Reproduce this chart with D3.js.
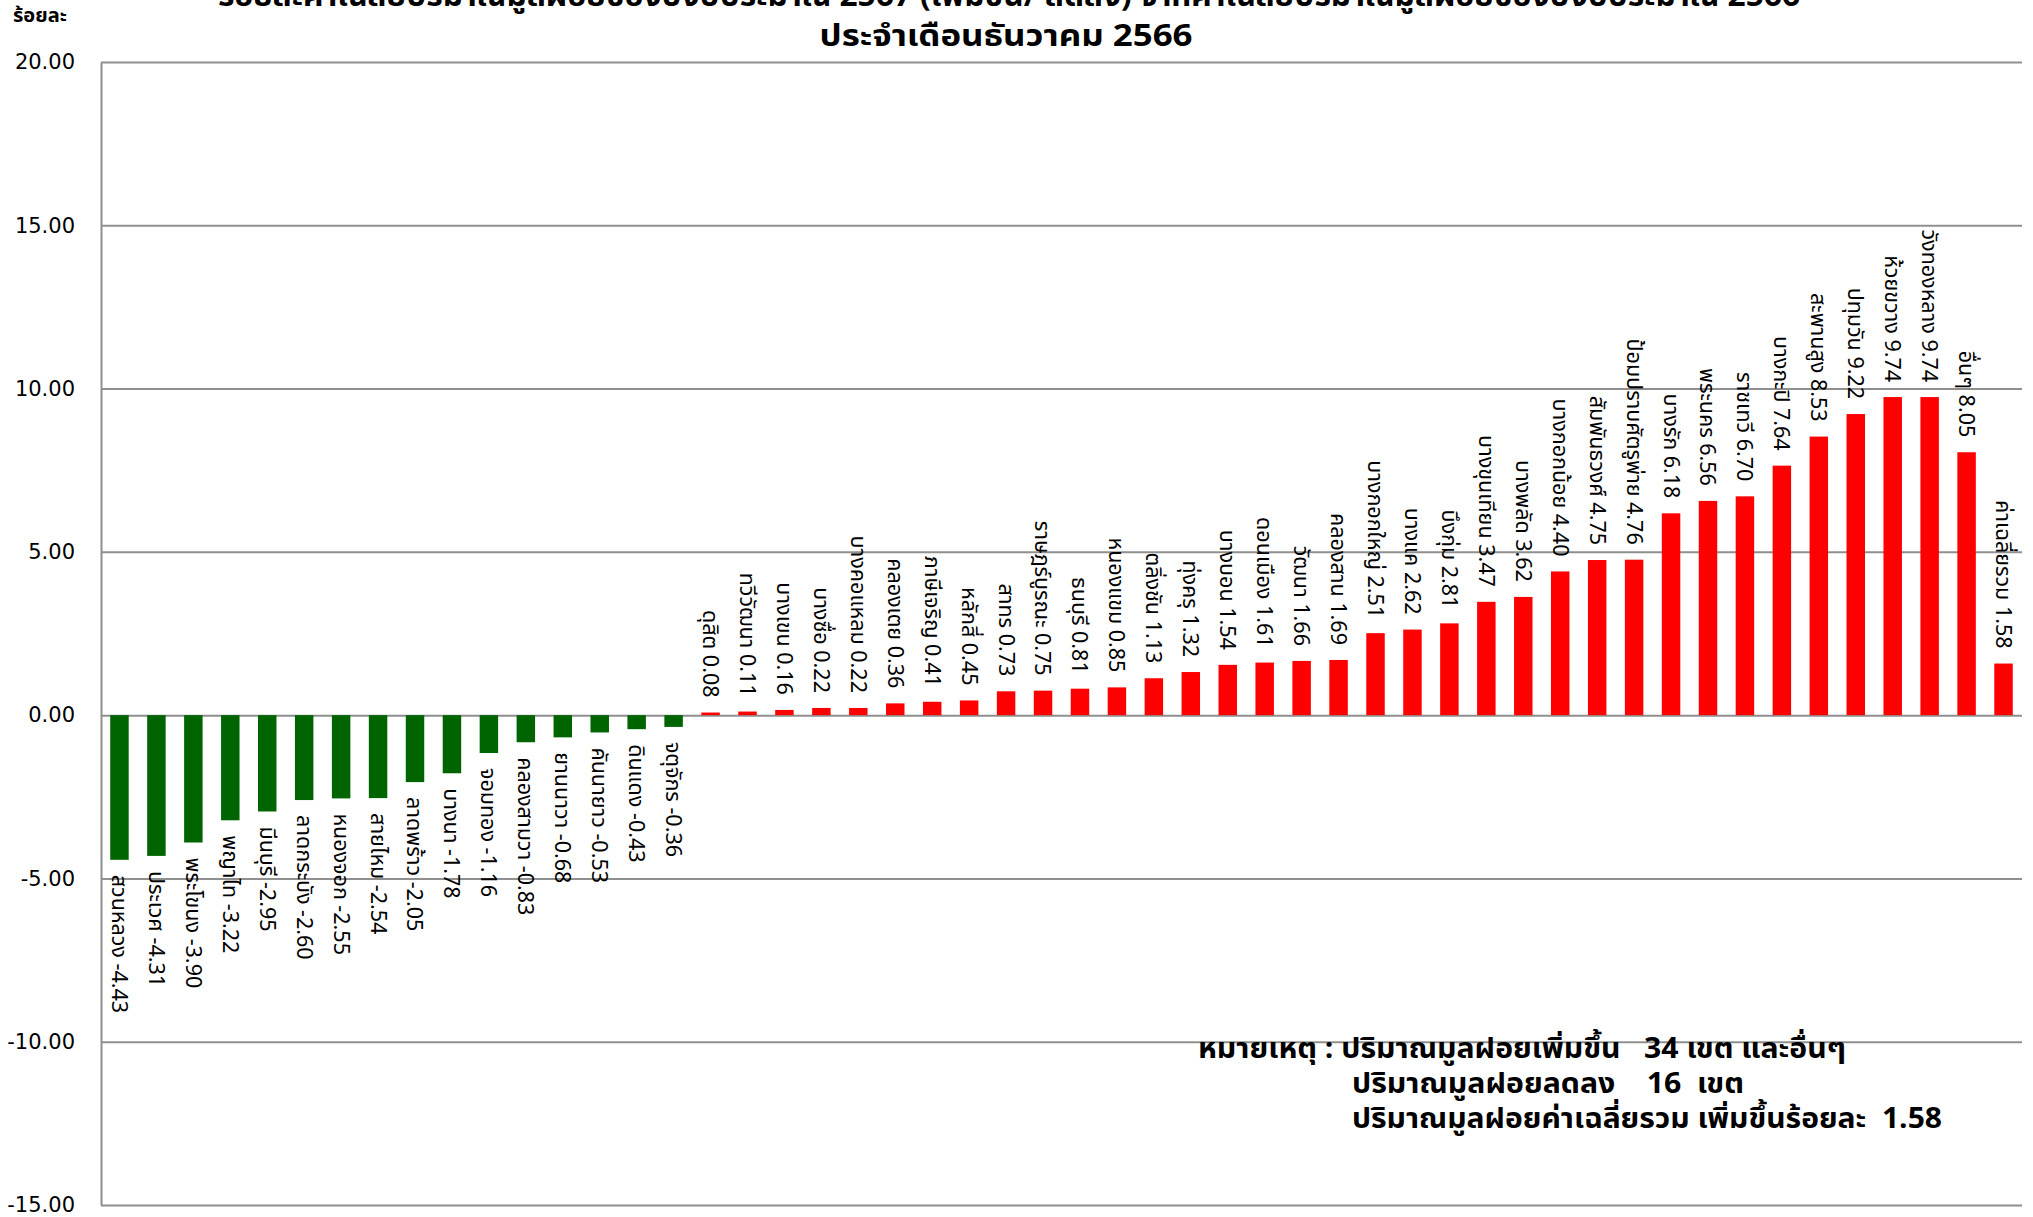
<!DOCTYPE html>
<html>
<head>
<meta charset="utf-8">
<script src="https://cdn.jsdelivr.net/npm/d3@7"></script>
<style>
  body { margin: 0; background: #fff; }
  text { font-family: Tahoma, "Noto Sans Thai", "Noto Sans", "DejaVu Sans", sans-serif; }
</style>
</head>
<body>
<div id="chart"></div>
<script>
// districts, sorted the same way as the source chart
const districts = [
  "สวนหลวง", "ประเวศ", "พระโขนง", "พญาไท", "มีนบุรี", "ลาดกระบัง", "หนองจอก", "สายไหม",
  "ลาดพร้าว", "บางนา", "จอมทอง", "คลองสามวา", "ยานนาวา", "คันนายาว", "ดินแดง", "จตุจักร",
  "ดุสิต", "ทวีวัฒนา", "บางเขน", "บางซื่อ", "บางคอแหลม", "คลองเตย", "ภาษีเจริญ", "หลักสี่",
  "สาทร", "ราษฎร์บูรณะ", "ธนบุรี", "หนองแขม", "ตลิ่งชัน", "ทุ่งครุ", "บางบอน", "ดอนเมือง",
  "วัฒนา", "คลองสาน", "บางกอกใหญ่", "บางแค", "บึงกุ่ม", "บางขุนเทียน", "บางพลัด", "บางกอกน้อย",
  "สัมพันธวงศ์", "ป้อมปราบศัตรูพ่าย", "บางรัก", "พระนคร", "ราชเทวี", "บางกะปิ", "สะพานสูง",
  "ปทุมวัน", "ห้วยขวาง", "วังทองหลาง", "อื่นๆ", "ค่าเฉลี่ยรวม"
];
const changes = [
  -4.43, -4.31, -3.90, -3.22, -2.95, -2.60, -2.55, -2.54,
  -2.05, -1.78, -1.16, -0.83, -0.68, -0.53, -0.43, -0.36,
  0.08, 0.11, 0.16, 0.22, 0.22, 0.36, 0.41, 0.45,
  0.73, 0.75, 0.81, 0.85, 1.13, 1.32, 1.54, 1.61,
  1.66, 1.69, 2.51, 2.62, 2.81, 3.47, 3.62, 4.40,
  4.75, 4.76, 6.18, 6.56, 6.70, 7.64, 8.53,
  9.22, 9.74, 9.74, 8.05, 1.58
];
const yTicks = [-15, -10, -5, 0, 5, 10, 15, 20];
const titleLines = [
  "ร้อยละค่าเฉลี่ยปริมาณมูลฝอยของปีงบประมาณ 2567 (เพิ่มขึ้น/ ลดลง) จากค่าเฉลี่ยปริมาณมูลฝอยของปีงบประมาณ 2566",
  "ประจำเดือนธันวาคม 2566"
];
const noteLines = [
  "หมายเหตุ : ปริมาณมูลฝอยเพิ่มขึ้น   34 เขต และอื่นๆ",
  "ปริมาณมูลฝอยลดลง    16  เขต",
  "ปริมาณมูลฝอยค่าเฉลี่ยรวม เพิ่มขึ้นร้อยละ  1.58"
];

const data = districts.map((name, i) => ({ name, value: changes[i] }));

const W = 2033, H = 1217;
const plotLeft = 101, plotRight = 2022, plotTop = 62, plotBottom = 1205;

const svg = d3.select("#chart").append("svg")
  .attr("width", W)
  .attr("height", H);

const x = d3.scaleBand()
  .domain(districts)
  .range([plotLeft, plotRight])
  .paddingInner(0.5)
  .paddingOuter(0.25);

const y = d3.scaleLinear()
  .domain([-15, 20])
  .range([plotBottom, plotTop]);

// gridlines
svg.append("g")
  .attr("transform", `translate(${plotLeft},0)`)
  .call(d3.axisLeft(y).tickValues(yTicks).tickSize(-(plotRight - plotLeft)).tickFormat(""))
  .call(g => g.select(".domain").remove())
  .selectAll("line")
  .attr("stroke", "#8f8f8f")
  .attr("stroke-width", 2);

// y axis
svg.append("g")
  .attr("transform", `translate(${plotLeft},0)`)
  .call(d3.axisLeft(y).tickValues(yTicks).tickSize(0).tickPadding(26).tickFormat(d => d.toFixed(2)))
  .call(g => g.select(".domain").attr("stroke", "#8f8f8f").attr("stroke-width", 2))
  .selectAll("text")
  .style("font-family", "'DejaVu Sans', Verdana, sans-serif")
  .style("font-size", "21px")
  .attr("fill", "#000");

// bars
svg.selectAll("rect.bar")
  .data(data)
  .enter()
  .append("rect")
  .attr("class", "bar")
  .attr("x", d => x(d.name))
  .attr("width", x.bandwidth())
  .attr("y", d => y(Math.max(0, d.value)))
  .attr("height", d => Math.abs(y(d.value) - y(0)))
  .attr("fill", d => d.value < 0 ? "#006400" : "#ff0000");

// rotated data labels
svg.selectAll("text.lbl")
  .data(data)
  .enter()
  .append("text")
  .attr("class", "lbl")
  .attr("transform", d => {
    const cx = x(d.name) + x.bandwidth() / 2;
    const cy = d.value < 0 ? y(d.value) + 15 : y(d.value) - 15;
    return `translate(${cx},${cy}) rotate(90)`;
  })
  .attr("text-anchor", d => d.value < 0 ? "start" : "end")
  .attr("dy", "0.35em")
  .style("font-size", "21.5px")
  .attr("fill", "#000")
  .text(d => `${d.name} ${d.value.toFixed(2)}`);

// unit
svg.append("text")
  .attr("x", 13)
  .attr("y", 22)
  .style("font-size", "20px")
  .style("font-weight", "bold")
  .text("ร้อยละ");

// title
svg.append("text")
  .attr("x", 1009)
  .attr("y", 6)
  .attr("text-anchor", "middle")
  .attr("textLength", 1582)
  .attr("lengthAdjust", "spacingAndGlyphs")
  .style("font-size", "30px")
  .style("font-weight", "bold")
  .text(titleLines[0]);

svg.append("text")
  .attr("x", 1006)
  .attr("y", 46)
  .attr("text-anchor", "middle")
  .attr("textLength", 373)
  .attr("lengthAdjust", "spacingAndGlyphs")
  .style("font-size", "30px")
  .style("font-weight", "bold")
  .text(titleLines[1]);

// note
const noteX = [1198, 1352, 1352];
const noteW = [648, 392, 590];
noteLines.forEach((t, i) => {
  svg.append("text")
    .attr("x", noteX[i])
    .attr("y", 1058 + i * 35)
    .attr("textLength", noteW[i])
    .attr("lengthAdjust", "spacingAndGlyphs")
    .style("font-size", "28px")
    .style("font-weight", "bold")
    .style("white-space", "pre")
    .text(t);
});
</script>
</body>
</html>
